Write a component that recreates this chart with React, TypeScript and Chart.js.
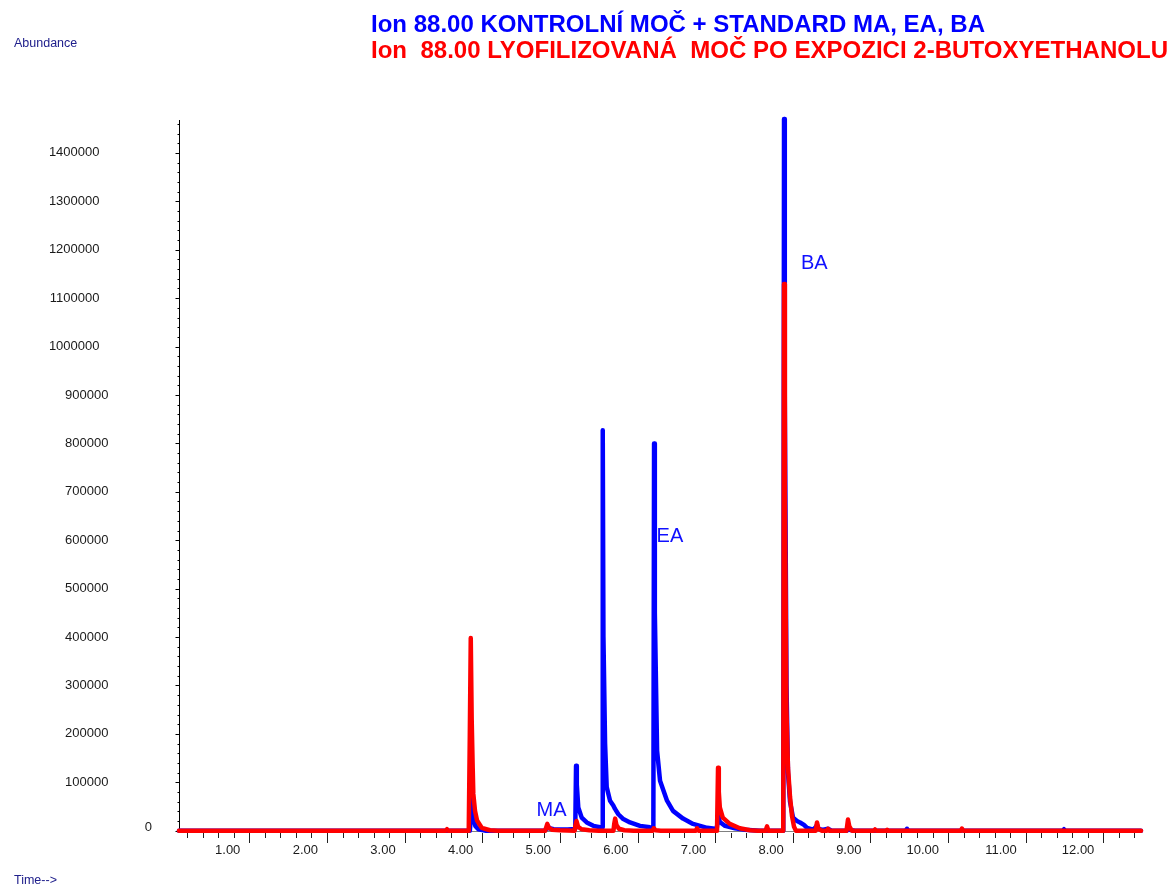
import React, { useEffect, useRef } from "react";
import { Chart, registerables } from "chart.js";

Chart.register(...registerables);

// ---------- data (retention time in min, abundance) ----------
const blueTime = [
  0.094, 3.84, 3.855, 3.868, 3.878, 3.892, 3.91, 3.95, 4.05,
  4.8, 4.83, 4.845, 4.865, 4.92, 5.1, 5.198, 5.208, 5.218, 5.237, 5.281, 5.346, 5.431, 5.517,
  5.543, 5.552, 5.561, 5.582, 5.603, 5.646, 5.688, 5.71, 5.753, 5.817, 5.903, 6.032, 6.161,
  6.204, 6.213, 6.223, 6.252, 6.29, 6.38, 6.457, 6.586, 6.715, 6.896,
  7.02, 7.032, 7.042, 7.06, 7.127, 7.255, 7.384, 7.577,
  7.877, 7.887, 7.897, 7.919, 7.938, 7.964, 8.003, 8.054, 8.093, 8.144, 8.183, 8.261,
  8.298, 8.312, 8.33, 8.38, 8.454, 8.5, 8.695, 8.711, 8.73, 8.8,
  9.455, 9.471, 9.49, 10.16, 10.179, 10.2, 11.475, 11.493, 11.51, 12.485,
];
const blueAbundance = [
  0, 0, 30000, 85000, 55000, 25000, 10000, 3000, 0,
  0, 4000, 10000, 5000, 3000, 2500, 3500, 134000, 95000, 48000, 27000, 17000, 10000, 7000,
  7000, 827000, 400000, 180000, 90000, 62000, 52000, 45000, 34000, 24000, 17000, 10000, 7000,
  6500, 800000, 450000, 165000, 103000, 62000, 41000, 25000, 14000, 6000,
  3500, 20000, 30000, 18000, 10000, 5000, 2000, 0,
  0, 1470000, 900000, 300000, 120000, 60000, 27000, 20000, 17000, 12000, 6000, 2000,
  8000, 12000, 4000, 1500, 4000, 0, 0, 9000, 2000, 0,
  0, 4000, 0, 0, 2500, 0, 0, 3000, 0, 0,
];

const redTime = [
  0.094, 3.53, 3.546, 3.56,
  3.826, 3.84, 3.852, 3.864, 3.877, 3.885, 3.907, 3.933, 3.993, 4.1, 4.2,
  4.81, 4.826, 4.838, 4.856, 4.9, 5.0, 5.19, 5.2, 5.214, 5.235, 5.28, 5.38, 5.5,
  5.69, 5.7, 5.712, 5.728, 5.76, 5.83, 5.95, 6.195, 6.21, 6.23, 6.3, 6.75, 6.766, 6.785,
  7.024, 7.037, 7.047, 7.06, 7.098, 7.188, 7.317, 7.45, 7.55, 7.65, 7.668, 7.686,
  7.877, 7.887, 7.898, 7.918, 7.938, 7.964, 7.99, 8.016, 8.041,
  8.295, 8.312, 8.33, 8.37, 8.44, 8.454, 8.47, 8.692, 8.711, 8.728, 8.76,
  9.045, 9.059, 9.075, 9.2, 9.215, 9.23, 10.165, 10.179, 10.195, 12.485,
];
const redAbundance = [
  0, 0, 3000, 0,
  0, 200000, 398000, 230000, 130000, 76000, 41000, 21000, 6000, 1000, 0,
  0, 8000, 14000, 6000, 2000, 800, 0, 10000, 20000, 8000, 3000, 1000, 0,
  0, 14000, 25000, 12000, 4000, 1000, 0, 0, 5000, 1000, 0, 0, 5000, 0,
  0, 130000, 80000, 48000, 27000, 14000, 5000, 1000, 0, 0, 9000, 0,
  0, 1129000, 700000, 250000, 130000, 70000, 30000, 8000, 0,
  0, 17000, 4000, 0, 0, 4000, 0, 0, 23000, 9000, 0,
  0, 2500, 0, 0, 2000, 0, 0, 4500, 0, 0,
];

const xTickLabels = ["1.00", "2.00", "3.00", "4.00", "5.00", "6.00", "7.00", "8.00", "9.00", "10.00", "11.00", "12.00"];
const yTickLabels = ["0", "100000", "200000", "300000", "400000", "500000", "600000", "700000",
  "800000", "900000", "1000000", "1100000", "1200000", "1300000", "1400000"];

const titleBlue = "Ion 88.00 KONTROLNÍ MOČ + STANDARD MA, EA, BA";
const titleRed = "Ion  88.00 LYOFILIZOVANÁ  MOČ PO EXPOZICI 2-BUTOXYETHANOLU";

const peakNames = ["MA", "EA", "BA"];
const peakNameTimes = [4.70, 6.245, 8.105];
const peakNameValues = [42700, 606700, 1170800];

const FONT = '"Liberation Sans", Arial, Helvetica, sans-serif';

const decorPlugin = {
  id: "decor",
  beforeDatasetsDraw(chart: any) {
    const ctx = chart.ctx;
    const xs = chart.scales.x;
    const ys = chart.scales.y;
    const area = chart.chartArea;
    const y0 = ys.getPixelForValue(0);
    const axX = Math.round(area.left) + 0.5;
    ctx.save();
    ctx.strokeStyle = "#808080";
    ctx.lineWidth = 1;
    ctx.beginPath();
    ctx.moveTo(area.left, Math.round(y0) + 0.5);
    ctx.lineTo(area.right, Math.round(y0) + 0.5);
    ctx.stroke();
    ctx.strokeStyle = "#222";
    for (let k = 1; k <= 62; k++) {
      const t = k * 0.2;
      const px = Math.round(xs.getPixelForValue(t)) + 0.5;
      const long = k % 5 === 0;
      ctx.beginPath();
      ctx.moveTo(px, Math.round(y0) + 2);
      ctx.lineTo(px, Math.round(y0) + (long ? 12 : 7));
      ctx.stroke();
    }
    ctx.strokeStyle = "#000";
    ctx.beginPath();
    ctx.moveTo(axX, area.top);
    ctx.lineTo(axX, Math.round(y0) + 1);
    ctx.stroke();
    for (let v = 0; v <= 1460000; v += 20000) {
      const py = Math.round(ys.getPixelForValue(v)) + 0.5;
      const major = v % 100000 === 0;
      ctx.beginPath();
      ctx.moveTo(axX, py);
      ctx.lineTo(axX - (major ? 4 : 2), py);
      ctx.stroke();
    }
    ctx.restore();
  },
  afterDraw(chart: any) {
    const ctx = chart.ctx;
    const xs = chart.scales.x;
    const ys = chart.scales.y;
    const y0 = ys.getPixelForValue(0);
    ctx.save();
    ctx.font = `13px ${FONT}`;
    ctx.fillStyle = "#1a1a1a";
    ctx.textAlign = "right";
    ctx.textBaseline = "middle";
    xTickLabels.forEach((lab) => {
      const px = xs.getPixelForValue(parseFloat(lab));
      ctx.fillText(lab, px - 9, y0 + 20);
    });
    yTickLabels.forEach((lab) => {
      const py = ys.getPixelForValue(parseFloat(lab));
      let right = 99.5;
      if (lab.length === 6) right = 108.5;
      if (lab === "0") right = 152;
      ctx.fillText(lab, right, lab === "0" ? py - 3 : py);
    });
    ctx.fillStyle = "#20208c";
    ctx.textAlign = "left";
    ctx.font = `12.5px ${FONT}`;
    ctx.fillText("Abundance", 14, 44);
    ctx.fillText("Time-->", 14, 881);
    ctx.fillStyle = "#1010ff";
    ctx.font = `20px ${FONT}`;
    peakNames.forEach((n, i) => {
      ctx.fillText(n, xs.getPixelForValue(peakNameTimes[i]), ys.getPixelForValue(peakNameValues[i]));
    });
    ctx.font = `bold 24px ${FONT}`;
    ctx.textBaseline = "alphabetic";
    const drawFit = (txt: string, x: number, y: number, w: number, color: string) => {
      const m = ctx.measureText(txt).width;
      ctx.save();
      ctx.translate(x, y);
      ctx.scale(w / m, 1);
      ctx.fillStyle = color;
      ctx.fillText(txt, 0, 0);
      ctx.restore();
    };
    drawFit(titleBlue, 371, 32, 614, "#0000ff");
    drawFit(titleRed, 371, 58, 797, "#ff0000");
    ctx.restore();
  },
};

export default function App() {
  const ref = useRef<HTMLCanvasElement | null>(null);
  useEffect(() => {
    if (!ref.current) return;
    const blueData = blueTime.map((t, i) => ({ x: t, y: blueAbundance[i] }));
    const redData = redTime.map((t, i) => ({ x: t, y: redAbundance[i] }));
    const common = {
      borderWidth: 4.5,
      pointRadius: 0,
      tension: 0,
      borderJoinStyle: "round" as const,
      borderCapStyle: "round" as const,
      fill: false,
      clip: 10,
    };
    const chart = new Chart(ref.current, {
      type: "line",
      data: {
        datasets: [
          { label: "red", data: redData, borderColor: "#ff0000", ...common },
          { label: "blue", data: blueData, borderColor: "#0000ff", ...common },
        ],
      },
      options: {
        responsive: false,
        animation: false,
        events: [],
        layout: { padding: { left: 179, top: 120, right: 34, bottom: 57.3 } },
        plugins: { legend: { display: false }, tooltip: { enabled: false }, title: { display: false } },
        scales: {
          x: { type: "linear", min: 0.094, max: 12.485, display: false },
          y: { type: "linear", min: 0, max: 1468000, display: false },
        },
      },
      plugins: [decorPlugin],
    });
    return () => chart.destroy();
  }, []);
  return (
    <div style={{ position: "absolute", left: 0, top: 0, width: 1175, height: 888, background: "#fff" }}>
      <canvas ref={ref} width={1175} height={888} style={{ width: 1175, height: 888, display: "block" }} />
    </div>
  );
}
